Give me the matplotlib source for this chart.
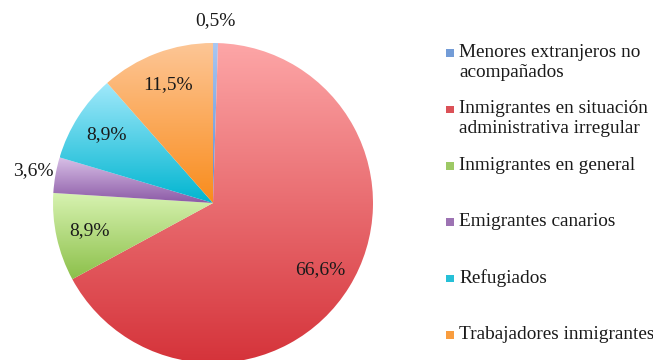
import numpy as np
import matplotlib
matplotlib.use('Agg')
from matplotlib import pyplot as plt
from matplotlib.colors import LinearSegmentedColormap
from matplotlib.patches import Rectangle

categories = ['Menores extranjeros no\nacompañados',
              'Inmigrantes en situación\nadministrativa irregular',
              'Inmigrantes en general',
              'Emigrantes canarios',
              'Refugiados',
              'Trabajadores inmigrantes']
values = [0.5, 66.6, 8.9, 3.6, 8.9, 11.5]
# light (top) and dark (bottom) shade of each slice
top_colors = ['#a9c7f2', '#fda6a7', '#d8f3b2', '#d8c0e7', '#a2e9fb', '#fdc696']
bottom_colors = ['#5b8bd0', '#d5333a', '#8cc04a', '#8c5aa6', '#00b5d0', '#f98c1c']
outside = [True, False, False, True, False, False]

plt.rcParams['font.family'] = ['Liberation Serif', 'DejaVu Serif']

fig = plt.figure(figsize=(6.53, 3.6), dpi=100)
W, H = 653.0, 360.0
cx, cy, r = 213.0, 203.0, 160.0
ax = fig.add_axes([(cx - r) / W, (H - cy - r) / H, 2 * r / W, 2 * r / H])
ax.set_xlim(-1, 1)
ax.set_ylim(-1, 1)
ax.axis('off')

wedges, _ = ax.pie(values, startangle=90, counterclock=False, radius=1,
                   colors=bottom_colors, wedgeprops=dict(linewidth=0))

grad = np.linspace(0, 1, 256).reshape(-1, 1)
for i, w in enumerate(wedges):
    ext = w.get_path().get_extents()
    cmap = LinearSegmentedColormap.from_list('g%d' % i, [top_colors[i], bottom_colors[i]])
    im = ax.imshow(grad, cmap=cmap, aspect='auto', origin='upper',
                   extent=(ext.x0, ext.x1, ext.y0, ext.y1), zorder=2)
    im.set_clip_path(w)
    w.set_facecolor('none')
ax.set_xlim(-1, 1)
ax.set_ylim(-1, 1)

# percentage labels
start = 90.0
total = float(sum(values))
for i, v in enumerate(values):
    span = 360.0 * v / total
    mid = np.deg2rad(start - span / 2)
    start -= span
    dist = 1.14 if outside[i] else 0.79
    label = ('%.1f%%' % v).replace('.', ',')
    ax.text(dist * np.cos(mid), dist * np.sin(mid), label, ha='center', va='center',
            fontsize=14, color='#1a1a1a', clip_on=False, zorder=5)

# legend on the right
for i, name in enumerate(categories):
    ypix = 53 + i * 56.4
    sq = 7.5
    fig.patches.append(Rectangle(((450 - sq / 2) / W, (H - ypix - sq / 2) / H), sq / W, sq / H,
                                 transform=fig.transFigure, facecolor=bottom_colors[i],
                                 edgecolor='none', alpha=0.85))
    fig.text(459 / W, (H - ypix + 9) / H, name, ha='left', va='top', fontsize=13.9,
             color='#1a1a1a', linespacing=1.2)

fig.savefig('out.png', dpi=100)
